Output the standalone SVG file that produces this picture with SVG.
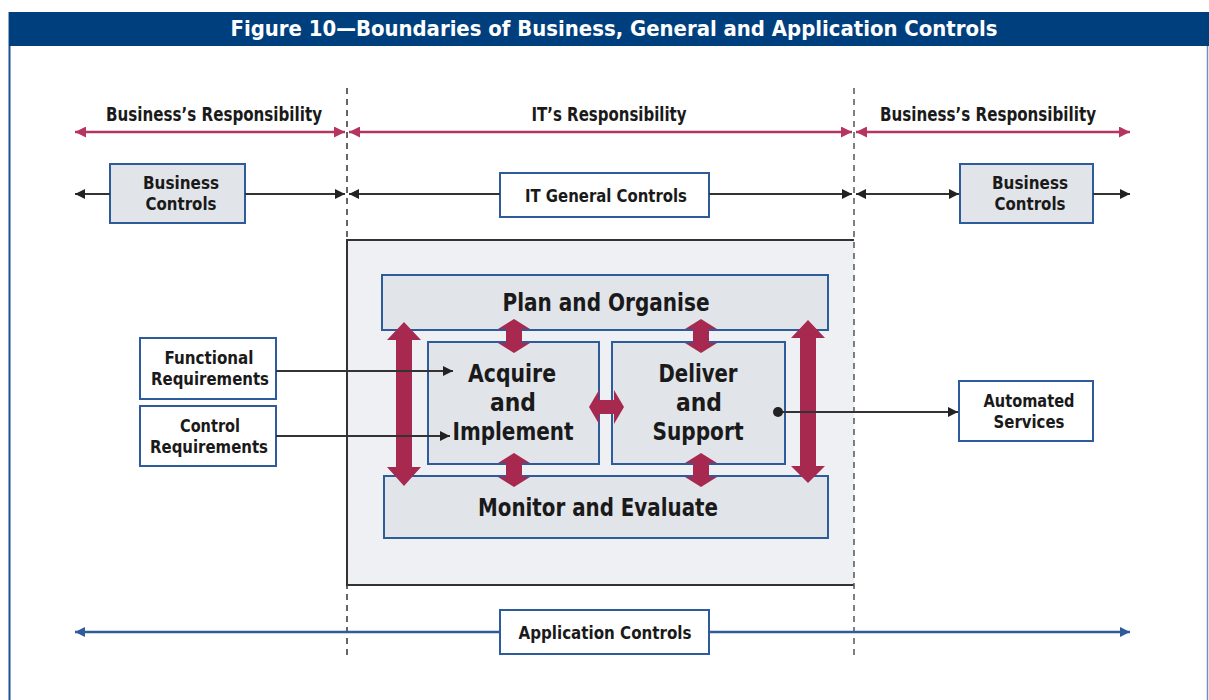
<svg xmlns="http://www.w3.org/2000/svg" width="1209" height="700" viewBox="0 0 1209 700">
<defs>
<style>
.t{font-family:"DejaVu Sans Condensed","Liberation Sans Narrow","Liberation Sans",sans-serif;font-weight:bold;fill:#1a1a1a;text-anchor:middle}
.box{fill:#e1e4e9;stroke:#2e5b9a;stroke-width:2}
.wbox{fill:#ffffff;stroke:#2e5b9a;stroke-width:2}
.red{stroke:#b5355f;stroke-width:2.5;fill:none}
.blk{stroke:#333333;stroke-width:2;fill:none}
.blu{stroke:#2e5b9a;stroke-width:2.5;fill:none}
.dash{stroke:#333;stroke-width:1.5;stroke-dasharray:6,5;fill:none}
.big{fill:#a8294f}
</style>
<marker id="mrr" viewBox="0 0 10 10" refX="10" refY="5" markerWidth="11" markerHeight="11" orient="auto-start-reverse" markerUnits="userSpaceOnUse"><path d="M0,0 L10,5 L0,10 z" fill="#b5355f"/></marker>
<marker id="mb" viewBox="0 0 10 10" refX="10" refY="5" markerWidth="11" markerHeight="10" orient="auto-start-reverse" markerUnits="userSpaceOnUse"><path d="M0,0 L10,5 L0,10 z" fill="#222"/></marker>
<marker id="mu" viewBox="0 0 10 10" refX="10" refY="5" markerWidth="10" markerHeight="11" orient="auto-start-reverse" markerUnits="userSpaceOnUse"><path d="M0,0 L10,5 L0,10 z" fill="#2e5b9a"/></marker>
</defs>
<rect width="1209" height="700" fill="#ffffff"/>
<g id="frame">
<line x1="9.5" y1="12" x2="9.5" y2="700" stroke="#1f4f91" stroke-width="2"/>
<line x1="1207.5" y1="12" x2="1207.5" y2="700" stroke="#6f8fbf" stroke-width="1.5"/>
<rect x="9" y="12" width="1200" height="34" fill="#003f7e"/>
<text class="t" x="614" y="36" font-size="22" style="fill:#ffffff" textLength="767" lengthAdjust="spacingAndGlyphs">Figure 10—Boundaries of Business, General and Application Controls</text>
</g>
<g id="container">
<rect x="347" y="240" width="507" height="345" fill="#eef0f3"/>
<path d="M854,240 H347 V585 H854" fill="none" stroke="#333" stroke-width="2"/>
</g>
<g id="dividers">
<line class="dash" x1="347" y1="88" x2="347" y2="658"/>
<line class="dash" x1="854" y1="88" x2="854" y2="658" style="stroke:#555"/>
</g>
<g id="labels">
<text class="t" x="214" y="121" font-size="19" textLength="216" lengthAdjust="spacingAndGlyphs">Business’s Responsibility</text>
<text class="t" x="609" y="121" font-size="19" textLength="155" lengthAdjust="spacingAndGlyphs">IT’s Responsibility</text>
<text class="t" x="988" y="121" font-size="19" textLength="216" lengthAdjust="spacingAndGlyphs">Business’s Responsibility</text>
</g>
<g id="business-controls-left">
<rect class="box" x="110" y="164" width="135" height="59"/>
<text class="t" x="181" y="189" font-size="18" textLength="76" lengthAdjust="spacingAndGlyphs">Business</text>
<text class="t" x="181" y="210" font-size="18" textLength="71" lengthAdjust="spacingAndGlyphs">Controls</text>
</g>
<g id="it-general-controls">
<rect class="wbox" x="500" y="173" width="209" height="44"/>
<text class="t" x="606" y="202" font-size="18" textLength="162" lengthAdjust="spacingAndGlyphs">IT General Controls</text>
</g>
<g id="business-controls-right">
<rect class="box" x="960" y="164" width="133" height="59"/>
<text class="t" x="1030" y="189" font-size="18" textLength="76" lengthAdjust="spacingAndGlyphs">Business</text>
<text class="t" x="1030" y="210" font-size="18" textLength="71" lengthAdjust="spacingAndGlyphs">Controls</text>
</g>
<g id="plan-organise">
<rect class="box" x="382" y="275" width="446" height="55"/>
<text class="t" x="606" y="311" font-size="24" textLength="207" lengthAdjust="spacingAndGlyphs">Plan and Organise</text>
</g>
<g id="acquire-implement">
<rect class="box" x="428" y="342" width="171" height="122"/>
<text class="t" x="512" y="382" font-size="24" textLength="88" lengthAdjust="spacingAndGlyphs">Acquire</text>
<text class="t" x="513" y="411" font-size="24" textLength="46" lengthAdjust="spacingAndGlyphs">and</text>
<text class="t" x="513" y="440" font-size="24" textLength="121" lengthAdjust="spacingAndGlyphs">Implement</text>
</g>
<g id="deliver-support">
<rect class="box" x="612" y="342" width="173" height="122"/>
<text class="t" x="698" y="382" font-size="24" textLength="79" lengthAdjust="spacingAndGlyphs">Deliver</text>
<text class="t" x="699" y="411" font-size="24" textLength="46" lengthAdjust="spacingAndGlyphs">and</text>
<text class="t" x="698" y="440" font-size="24" textLength="91" lengthAdjust="spacingAndGlyphs">Support</text>
</g>
<g id="monitor-evaluate">
<rect class="box" x="384" y="476" width="444" height="62"/>
<text class="t" x="598" y="516" font-size="24" textLength="240" lengthAdjust="spacingAndGlyphs">Monitor and Evaluate</text>
</g>
<g id="big-arrows">
<polygon class="big" points="404,322 421,340 412,340 412,467 421,467 404,486 387,467 396,467 396,340 387,340"/>
<polygon class="big" points="808,320 825,338 816,338 816,466 825,466 808,483 791,466 800,466 800,338 791,338"/>
<polygon class="big" points="514,319 530,329 522,329 522,343 530,343 514,353 498,343 506,343 506,329 498,329"/>
<polygon class="big" points="701,319 717,329 709,329 709,343 717,343 701,353 685,343 693,343 693,329 685,329"/>
<polygon class="big" points="514,453 530,463 522,463 522,477 530,477 514,487 498,477 506,477 506,463 498,463"/>
<polygon class="big" points="701,453 717,463 709,463 709,477 717,477 701,487 685,477 693,477 693,463 685,463"/>
<polygon class="big" points="589,407 599,390 599,400 614,400 614,390 624,407 614,424 614,414 599,414 599,424"/>
</g>
<g id="functional-requirements">
<rect class="wbox" x="140" y="338" width="136" height="61"/>
<text class="t" x="209" y="364" font-size="17" textLength="89" lengthAdjust="spacingAndGlyphs">Functional</text>
<text class="t" x="210" y="385" font-size="17" textLength="118" lengthAdjust="spacingAndGlyphs">Requirements</text>
</g>
<g id="control-requirements">
<rect class="wbox" x="140" y="406" width="136" height="60"/>
<text class="t" x="210" y="432" font-size="17" textLength="60" lengthAdjust="spacingAndGlyphs">Control</text>
<text class="t" x="209" y="453" font-size="17" textLength="118" lengthAdjust="spacingAndGlyphs">Requirements</text>
</g>
<g id="automated-services">
<rect class="wbox" x="959" y="381" width="134" height="60"/>
<text class="t" x="1029" y="407" font-size="17" textLength="91" lengthAdjust="spacingAndGlyphs">Automated</text>
<text class="t" x="1029" y="428" font-size="17" textLength="71" lengthAdjust="spacingAndGlyphs">Services</text>
</g>
<g id="application-controls">
<rect class="wbox" x="500" y="610" width="209" height="44"/>
<text class="t" x="605" y="639" font-size="18" textLength="173" lengthAdjust="spacingAndGlyphs">Application Controls</text>
</g>
<g id="connectors">
<line class="red" x1="75" y1="132" x2="345" y2="132" marker-start="url(#mrr)" marker-end="url(#mrr)"/>
<line class="red" x1="349" y1="132" x2="852" y2="132" marker-start="url(#mrr)" marker-end="url(#mrr)"/>
<line class="red" x1="856" y1="132" x2="1130" y2="132" marker-start="url(#mrr)" marker-end="url(#mrr)"/>
<line class="blk" x1="75" y1="194" x2="110" y2="194" marker-start="url(#mb)"/>
<line class="blk" x1="245" y1="194" x2="345" y2="194" marker-end="url(#mb)"/>
<line class="blk" x1="349" y1="194" x2="500" y2="194" marker-start="url(#mb)"/>
<line class="blk" x1="709" y1="194" x2="852" y2="194" marker-end="url(#mb)"/>
<line class="blk" x1="856" y1="194" x2="959" y2="194" marker-start="url(#mb)" marker-end="url(#mb)"/>
<line class="blk" x1="1093" y1="194" x2="1130" y2="194" marker-end="url(#mb)"/>
<line class="blk" x1="276" y1="371" x2="453" y2="371" stroke-width="1.5" marker-end="url(#mb)"/>
<line class="blk" x1="276" y1="436" x2="450" y2="436" marker-end="url(#mb)"/>
<line class="blk" x1="778" y1="412" x2="958" y2="412" marker-end="url(#mb)"/>
<circle cx="778" cy="412" r="5" fill="#222"/>
<line class="blu" x1="75" y1="632" x2="500" y2="632" marker-start="url(#mu)"/>
<line class="blu" x1="709" y1="632" x2="1130" y2="632" marker-end="url(#mu)"/>
</g>
</svg>
